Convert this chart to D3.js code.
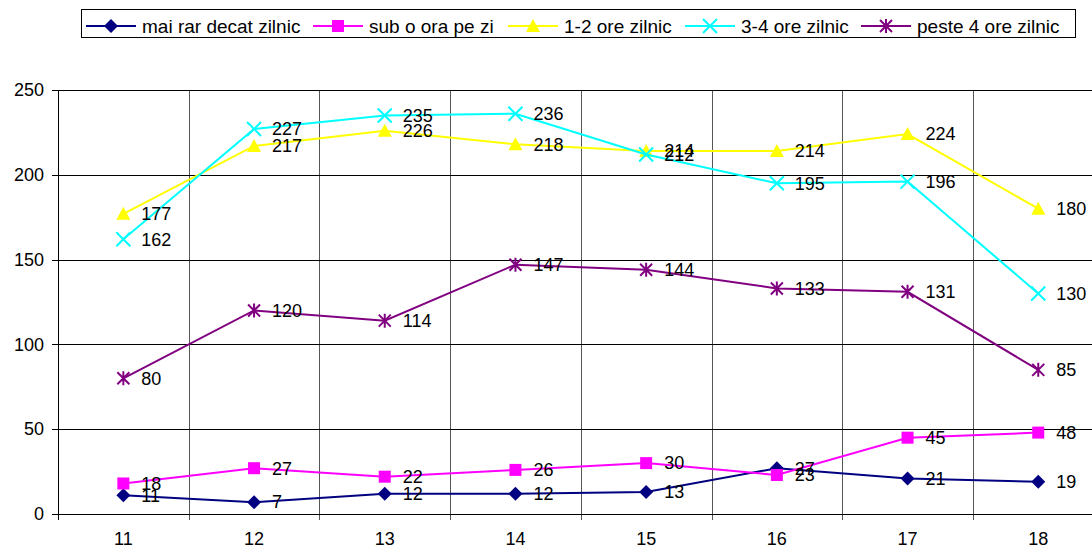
<!DOCTYPE html>
<meta charset="utf-8">
<style>
  body { margin: 0; background: #fff; }
  svg { font-family: "Liberation Sans", Arial, sans-serif; }
  .grid line { shape-rendering: crispEdges; }
  .axis path { display: none; }
  .axis text { font-size: 18px; fill: #000; }
  .lbl { font-size: 18px; fill: #000; }
  .legend text { font-size: 19px; fill: #000; }
</style>
<body>
<script src="https://cdnjs.cloudflare.com/ajax/libs/d3/7.8.5/d3.min.js"></script>
<script>
  // categories (x axis)
  var categories = ["11", "12", "13", "14", "15", "16", "17", "18"];

  // series
  var seriesNames = ["mai rar decat zilnic", "sub o ora pe zi", "1-2 ore zilnic", "3-4 ore zilnic", "peste 4 ore zilnic"];
  var maiRar   = [11, 7, 12, 12, 13, 27, 21, 19];
  var subOra   = [18, 27, 22, 26, 30, 23, 45, 48];
  var ore12    = [177, 217, 226, 218, 214, 214, 224, 180];
  var ore34    = [162, 227, 235, 236, 212, 195, 196, 130];
  var peste4   = [80, 120, 114, 147, 144, 133, 131, 85];

  var yTicks = [0, 50, 100, 150, 200, 250];

  var colors = ["#000080", "#ff00ff", "#ffff00", "#00ffff", "#800080"];
  var symbols = ["diamond", "square", "triangle", "x", "star"];

  var series = [maiRar, subOra, ore12, ore34, peste4].map(function (vals, i) {
    return { name: seriesNames[i], values: vals, color: colors[i], sym: symbols[i] };
  });

  var W = 1092, H = 548;
  var plotLeft = 58, plotTop = 90, plotBottom = 514, step = 130.7;

  var svg = d3.select("body").append("svg")
    .attr("width", W)
    .attr("height", H);

  var x = d3.scaleBand()
    .domain(categories)
    .range([plotLeft, plotLeft + step * categories.length])
    .padding(0);

  var y = d3.scaleLinear()
    .domain([0, 250])
    .range([plotBottom, plotTop]);

  // grid
  var grid = svg.append("g").attr("class", "grid");
  var bounds = categories.map(function (c) { return x(c); }).concat([x.range()[1]]);

  grid.selectAll(".v").data(bounds).enter().append("line")
    .attr("x1", function (d) { return Math.round(d) + 0.5; })
    .attr("x2", function (d) { return Math.round(d) + 0.5; })
    .attr("y1", plotTop)
    .attr("y2", plotBottom + 6)
    .attr("stroke", function (d, i) { return i === 0 ? "#000" : "#555"; });

  grid.selectAll(".h").data(yTicks).enter().append("line")
    .attr("x1", plotLeft - 6)
    .attr("x2", W)
    .attr("y1", function (d) { return Math.round(y(d)) + 0.5; })
    .attr("y2", function (d) { return Math.round(y(d)) + 0.5; })
    .attr("stroke", "#000");

  // axes labels
  svg.append("g")
    .attr("class", "axis")
    .attr("transform", "translate(0," + plotBottom + ")")
    .call(d3.axisBottom(x).tickSize(0).tickPadding(18));

  svg.append("g")
    .attr("class", "axis")
    .attr("transform", "translate(" + (plotLeft - 14) + ",0)")
    .call(d3.axisLeft(y).tickValues(yTicks).tickSize(0).tickPadding(0));

  // lines
  var line = d3.line()
    .x(function (d, i) { return x(categories[i]) + x.bandwidth() / 2; })
    .y(function (d) { return y(d); });

  function drawMarker(g, sym, color, cx, cy) {
    if (sym === "diamond") {
      g.append("path").attr("d", "M0,-7L7,0L0,7L-7,0Z")
        .attr("transform", "translate(" + cx + "," + cy + ")").attr("fill", color);
    } else if (sym === "square") {
      g.append("rect").attr("x", cx - 6).attr("y", cy - 6).attr("width", 12).attr("height", 12).attr("fill", color);
    } else if (sym === "triangle") {
      g.append("path").attr("d", "M0,-7L7,6L-7,6Z")
        .attr("transform", "translate(" + cx + "," + cy + ")").attr("fill", color);
    } else if (sym === "x") {
      g.append("path").attr("d", "M-7,-7L7,7M7,-7L-7,7")
        .attr("transform", "translate(" + cx + "," + cy + ")").attr("stroke", color).attr("stroke-width", 2).attr("fill", "none");
    } else {
      g.append("path").attr("d", "M-6,-6L6,6M6,-6L-6,6M0,-7L0,7")
        .attr("transform", "translate(" + cx + "," + cy + ")").attr("stroke", color).attr("stroke-width", 2).attr("fill", "none");
    }
  }

  series.forEach(function (s) {
    var g = svg.append("g");
    g.append("path")
      .datum(s.values)
      .attr("d", line)
      .attr("fill", "none")
      .attr("stroke", s.color)
      .attr("stroke-width", 2);
    s.values.forEach(function (v, i) {
      var cx = x(categories[i]) + x.bandwidth() / 2, cy = y(v);
      drawMarker(g, s.sym, s.color, cx, cy);
    });
  });

  // data labels
  series.forEach(function (s) {
    svg.append("g").selectAll("text").data(s.values).enter().append("text")
      .attr("class", "lbl")
      .attr("x", function (d, i) { return x(categories[i]) + x.bandwidth() / 2 + 18; })
      .attr("y", function (d) { return y(d); })
      .attr("dy", "0.35em")
      .text(function (d) { return d; });
  });

  // legend
  var legend = svg.append("g").attr("class", "legend");
  legend.append("rect")
    .attr("x", 81.5).attr("y", 9.5).attr("width", 994).attr("height", 28)
    .attr("fill", "#fff").attr("stroke", "#000");

  var legendX = [86, 313, 508, 685, 861];
  series.forEach(function (s, i) {
    var g = legend.append("g");
    var lx = legendX[i];
    g.append("line").attr("x1", lx).attr("x2", lx + 50).attr("y1", 26).attr("y2", 26)
      .attr("stroke", s.color).attr("stroke-width", 2);
    drawMarker(g, s.sym, s.color, lx + 25, 26);
    g.append("text").attr("x", lx + 56).attr("y", 26).attr("dy", "0.35em").text(s.name);
  });
</script>
</body>
